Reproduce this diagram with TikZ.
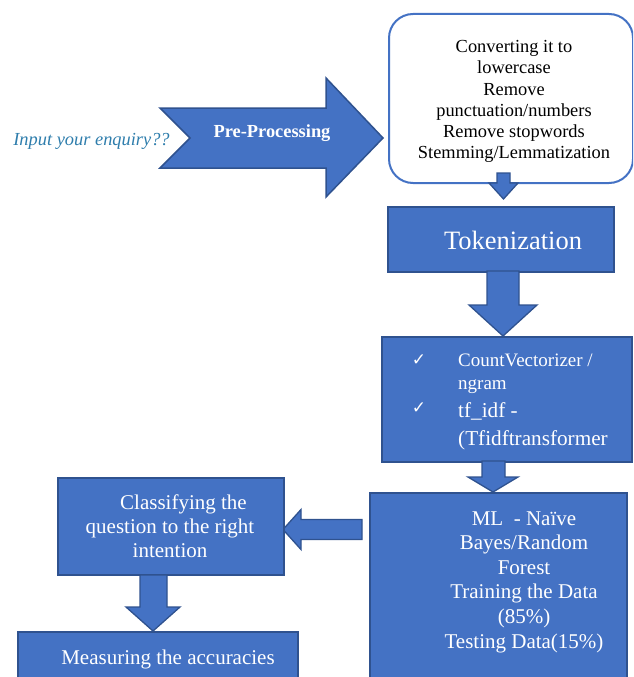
\documentclass[tikz,border=0pt]{standalone}
\usepackage{fontspec}
\setmainfont{Liberation Serif}
\newfontfamily\symfont{DejaVu Sans}
\definecolor{fillblue}{HTML}{4472C4}
\definecolor{edgeblue}{HTML}{2F528F}
\definecolor{inputcol}{RGB}{46,125,172}
\begin{document}
\begin{tikzpicture}[x=1pt,y=-1pt,
  box/.style={draw=edgeblue, fill=fillblue, line width=1.5pt, inner sep=0pt, anchor=north west},
  blk/.style={draw=edgeblue, fill=fillblue, line width=1.3pt, line join=miter},
  wtxt/.style={text=white, inner sep=0pt, align=center},
  chk/.style={text=white, inner sep=0pt, font=\symfont\fontsize{17}{19}\selectfont},
  ]
\useasboundingbox (0,0) rectangle (633,677);
\clip (0,0) rectangle (633,677);

% input text
\node[font=\fontsize{18.4}{21}\selectfont\itshape, text=inputcol, inner sep=0pt, anchor=base] (inp) at (91.5,145) {Input your enquiry??};

% pre-processing chevron arrow
\draw[blk, line width=1.5pt] (160,108) -- (326,108) -- (326,78) -- (383,138) -- (326,197) -- (326,168) -- (160,168) -- (190,138) -- cycle;
\node[wtxt, font=\fontsize{18.4}{21}\selectfont\bfseries, anchor=base] (pre) at (272,137.5) {Pre-Processing};

% rounded pre-processing box
\node[draw=fillblue, fill=white, line width=2pt, rounded corners=24pt, minimum width=244, minimum height=169, anchor=north west, inner sep=0pt] (pp) at (388,13) {};
\node[inner sep=0pt, align=center, font=\fontsize{18.4}{21.2}\selectfont] (ppt) at (514,101.5) {Converting it to\\lowercase\\Remove\\punctuation/numbers\\Remove stopwords\\Stemming/Lemmatization};

% arrow pp -> tok
\draw[blk] (497,173) -- (510,173) -- (510,183) -- (518,183) -- (503.5,199) -- (489,183) -- (497,183) -- cycle;

% tokenization
\node[box, minimum width=226, minimum height=65] (tok) at (387,206) {};
\node[wtxt, font=\fontsize{26.5}{30}\selectfont, anchor=base] (tokt) at (513,249) {Tokenization};

% arrow tok -> vec
\draw[blk] (487,271) -- (519,271) -- (519,305) -- (537,305) -- (503,336) -- (469,305) -- (487,305) -- cycle;

% vectorizer box
\node[box, minimum width=250, minimum height=125] (vec) at (381,336) {};
\node[chk] (c1) at (419,360.5) {✓};
\node[chk] (c2) at (419,408.5) {✓};
\node[text=white, inner sep=0pt, anchor=base west, font=\fontsize{19}{22}\selectfont] (v1) at (458,366) {CountVectorizer /};
\node[text=white, inner sep=0pt, anchor=base west, font=\fontsize{19}{22}\selectfont] (v2) at (458,389) {ngram};
\node[text=white, inner sep=0pt, anchor=base west, font=\fontsize{21.2}{24}\selectfont] (v3) at (458,417) {tf\_idf -};
\node[text=white, inner sep=0pt, anchor=base west, font=\fontsize{21.2}{24}\selectfont] (v4) at (458,445) {(Tfidftransformer};

% arrow vec -> ml
\draw[blk] (482,461) -- (505,461) -- (505,477) -- (518,477) -- (493,492) -- (468,477) -- (482,477) -- cycle;

% ML box
\node[box, minimum width=257, minimum height=200] (ml) at (369,492) {};
\node[wtxt, font=\fontsize{21}{24.6}\selectfont] (mlt) at (524,582) {ML\ \ - Naïve\\Bayes/Random\\Forest\\Training the Data\\(85\%)\\Testing Data(15\%)};

% arrow ml -> cls
\draw[blk] (362,519.5) -- (362,539.5) -- (301,539.5) -- (301,549.5) -- (283,529.5) -- (301,509.5) -- (301,519.5) -- cycle;

% classifying box
\node[box, minimum width=226, minimum height=97] (cls) at (57,477) {};
\node[wtxt, font=\fontsize{21}{24.15}\selectfont] (clst) at (170,526) {\hspace*{27pt}Classifying the\\question to the right\\intention};

% arrow cls -> meas
\draw[blk] (140,575) -- (167,575) -- (167,607) -- (180,607) -- (153,631) -- (126,607) -- (140,607) -- cycle;

% measuring box
\node[box, minimum width=280, minimum height=60] (meas) at (17,631) {};
\node[wtxt, font=\fontsize{21}{24}\selectfont, anchor=base] (meast) at (168,664) {Measuring the accuracies};
\end{tikzpicture}
\end{document}
